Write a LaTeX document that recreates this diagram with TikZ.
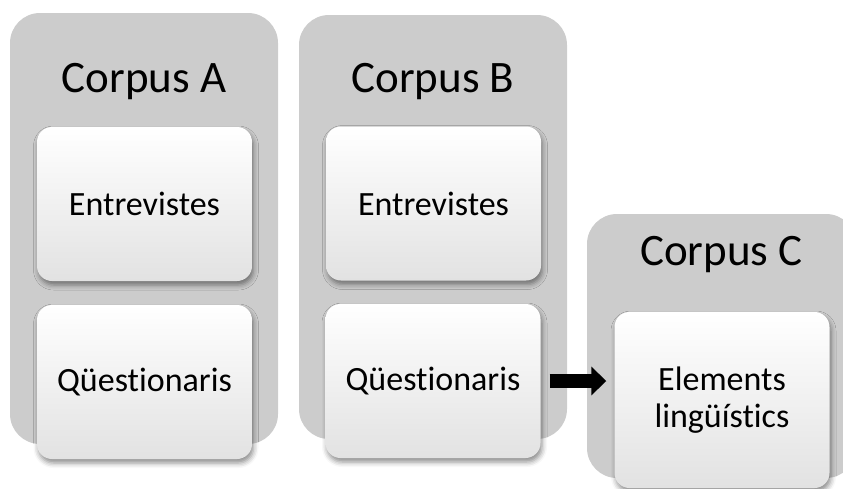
\documentclass[tikz,border=0pt]{standalone}
\usepackage{fontspec}
\setmainfont[Ligatures=NoCommon]{Carlito}
\usetikzlibrary{shadows.blur,arrows.meta}
\definecolor{panelgray}{RGB}{204,204,204}
\definecolor{boxfoot}{RGB}{226,226,226}
\begin{document}
\begin{tikzpicture}[x=1pt,y=-1pt,
  panel/.style={fill=panelgray, rounded corners=30pt, inner sep=0pt},
  item/.style={rounded corners=15pt, top color=white, middle color=white,
    bottom color=boxfoot, minimum width=215pt, minimum height=154pt,
    inner sep=0pt, align=center, font=\fontsize{34}{37}\selectfont,
    blur shadow={shadow xshift=1.5pt, shadow yshift=-4pt,
      shadow blur radius=5pt, shadow opacity=45}},
  title/.style={font=\fontsize{45}{54}\selectfont, anchor=base, inner sep=0pt},
  flow/.style={line width=14pt, -{Triangle[length=15pt,width=28pt]}}]
  \path[use as bounding box, clip] (0,0) rectangle (843,488);

  % grey group panels
  \node[panel, minimum width=268pt, minimum height=431pt] (panelA) at (144,228.5) {};
  \node[panel, minimum width=268pt, minimum height=424pt] (panelB) at (433,227) {};
  \node[panel, minimum width=269pt, minimum height=264pt] (panelC) at (721.5,346) {};

  % group titles
  \node[title] (titleA) at (144,92) {Corpus A};
  \node[title] (titleB) at (433,92) {Corpus B};
  \node[title] (titleC) at (721.5,265) {Corpus C};

  % white item boxes
  \node[item] (A1) at (144.5,204) {Entrevistes};
  \node[item] (A2) at (144.5,382) {Qüestionaris};
  \node[item] (B1) at (433.5,203.5) {Entrevistes};
  \node[item] (B2) at (433,381) {Qüestionaris};
  \node[item, minimum height=176pt] (C1) at (722,400) {Elements\\lingüístics};

  % block arrow from corpus B to corpus C
  \draw[flow] ([xshift=9pt]B2.east) -- ([xshift=-8pt]B2.east -| C1.west);
\end{tikzpicture}
\end{document}
